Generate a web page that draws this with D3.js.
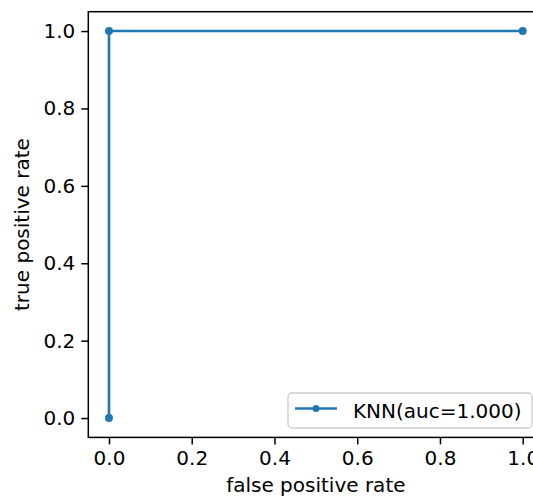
<!DOCTYPE html>
<html>
<head>
<meta charset="utf-8">
<script src="https://cdn.jsdelivr.net/npm/d3@7"></script>
<style>
  body { margin: 0; background: #fff; }
  svg { display: block; }
  text { font-family: "DejaVu Sans", sans-serif; fill: #000; }
</style>
</head>
<body>
<div id="chart"></div>
<script>
// ROC curve points
const fpr = [0.0, 0.0, 1.0];
const tpr = [0.0, 1.0, 1.0];
const seriesName = 'KNN(auc=1.000)';
const xTicks = [0.0, 0.2, 0.4, 0.6, 0.8, 1.0];
const yTicks = [0.0, 0.2, 0.4, 0.6, 0.8, 1.0];

const width = 533;
const height = 496;
const plot = { left: 88.3, right: 543.4, top: 11.7, bottom: 437.4 };
const blue = '#1f77b4';
const fontSize = '20px';

const svg = d3.select('#chart')
  .append('svg')
  .attr('width', width)
  .attr('height', height);

const x = d3.scaleLinear().domain([-0.05, 1.05]).range([plot.left, plot.right]);
const y = d3.scaleLinear().domain([-0.05, 1.05]).range([plot.bottom, plot.top]);

// axes
const xAxis = svg.append('g')
  .attr('transform', `translate(0, ${plot.bottom})`)
  .call(d3.axisBottom(x).tickValues(xTicks).tickFormat(d3.format('.1f')).tickSize(7).tickPadding(6).tickSizeOuter(0));

const yAxis = svg.append('g')
  .attr('transform', `translate(${plot.left}, 0)`)
  .call(d3.axisLeft(y).tickValues(yTicks).tickFormat(d3.format('.1f')).tickSize(7).tickPadding(6).tickSizeOuter(0));

[xAxis, yAxis].forEach(g => {
  g.select('.domain').remove();
  g.selectAll('.tick line').attr('stroke', '#000').attr('stroke-width', 1.5);
  g.selectAll('.tick text')
    .style('font-family', '"DejaVu Sans", sans-serif')
    .style('font-size', fontSize)
    .attr('fill', '#000');
});

// spines
svg.append('rect')
  .attr('x', plot.left)
  .attr('y', plot.top)
  .attr('width', plot.right - plot.left)
  .attr('height', plot.bottom - plot.top)
  .attr('fill', 'none')
  .attr('stroke', '#000')
  .attr('stroke-width', 1.5);

// curve
const pts = fpr.map((d, i) => [d, tpr[i]]);
svg.append('path')
  .datum(pts)
  .attr('fill', 'none')
  .attr('stroke', blue)
  .attr('stroke-width', 2.6)
  .attr('d', d3.line().x(d => x(d[0])).y(d => y(d[1])));

svg.selectAll('circle.pt')
  .data(pts)
  .enter()
  .append('circle')
  .attr('class', 'pt')
  .attr('cx', d => x(d[0]))
  .attr('cy', d => y(d[1]))
  .attr('r', 4)
  .attr('fill', blue);

// axis labels
svg.append('text')
  .attr('x', (plot.left + plot.right) / 2)
  .attr('y', 492)
  .attr('text-anchor', 'middle')
  .style('font-size', fontSize)
  .text('false positive rate');

svg.append('text')
  .attr('transform', `translate(29, ${(plot.top + plot.bottom) / 2}) rotate(-90)`)
  .attr('text-anchor', 'middle')
  .style('font-size', fontSize)
  .text('true positive rate');

// legend
const legend = svg.append('g').attr('transform', 'translate(288, 393)');
legend.append('rect')
  .attr('width', 244)
  .attr('height', 35)
  .attr('rx', 4)
  .attr('fill', 'rgba(255,255,255,0.8)')
  .attr('stroke', '#cccccc')
  .attr('stroke-width', 1.3);
legend.append('line')
  .attr('x1', 7).attr('x2', 49)
  .attr('y1', 15.5).attr('y2', 15.5)
  .attr('stroke', blue)
  .attr('stroke-width', 2.6);
legend.append('circle')
  .attr('cx', 28).attr('cy', 15.5).attr('r', 3.5)
  .attr('fill', blue);
legend.append('text')
  .attr('x', 65)
  .attr('y', 25)
  .style('font-size', fontSize)
  .text(seriesName);
</script>
</body>
</html>
